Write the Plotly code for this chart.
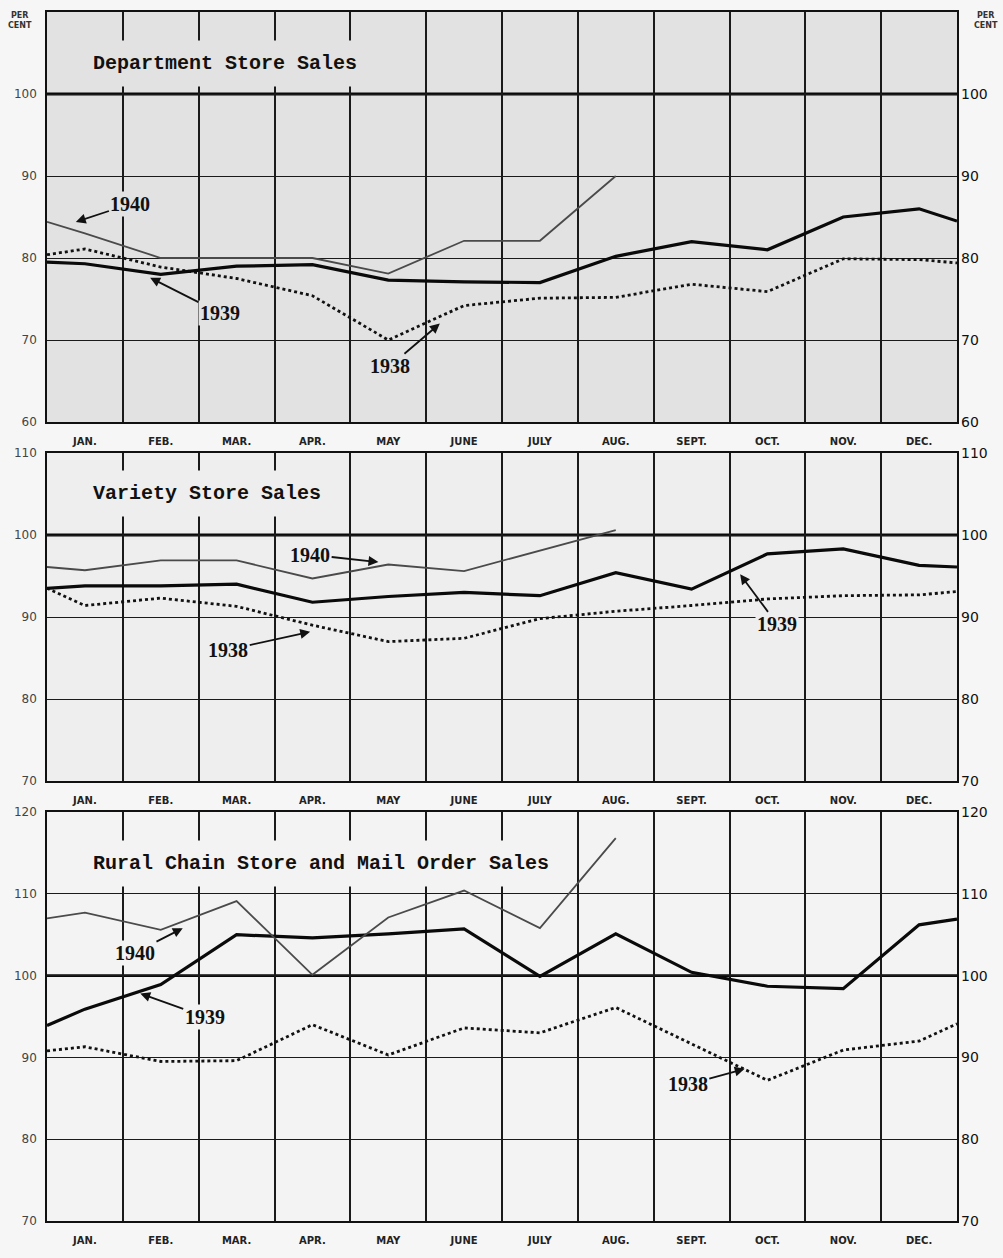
import plotly.graph_objects as go

# ---------------- data ----------------
months = ["JAN.", "FEB.", "MAR.", "APR.", "MAY", "JUNE", "JULY", "AUG.", "SEPT.", "OCT.", "NOV.", "DEC."]
# x positions: left frame edge, month centres, right frame edge
x_full = [0] + [i + 0.5 for i in range(12)] + [12]
x_1940 = x_full[:9]

# values: [left edge, Jan .. Dec, right edge]  (1940: left edge, Jan .. Aug)
dept_1938 = [80.4, 81.1, 78.9, 77.5, 75.4, 70.0, 74.2, 75.1, 75.2, 76.8, 75.9, 79.9, 79.8, 79.4]
dept_1939 = [79.5, 79.3, 78.0, 79.0, 79.2, 77.3, 77.1, 77.0, 80.2, 82.0, 81.0, 85.0, 86.0, 84.5]
dept_1940 = [84.4, 83.0, 80.0, 80.0, 80.0, 78.1, 82.1, 82.1, 90.0]

var_1938 = [93.5, 91.4, 92.3, 91.3, 89.0, 87.0, 87.4, 89.8, 90.7, 91.4, 92.2, 92.6, 92.7, 93.1]
var_1939 = [93.5, 93.8, 93.8, 94.0, 91.8, 92.5, 93.0, 92.6, 95.4, 93.4, 97.7, 98.3, 96.3, 96.1]
var_1940 = [96.1, 95.7, 96.9, 96.9, 94.7, 96.4, 95.6, 98.1, 100.6]

rural_1938 = [90.8, 91.3, 89.5, 89.6, 94.0, 90.3, 93.6, 93.0, 96.1, 91.7, 87.2, 90.9, 92.0, 94.1]
rural_1939 = [93.9, 95.9, 98.9, 105.0, 104.6, 105.1, 105.7, 99.9, 105.1, 100.4, 98.7, 98.4, 106.2, 106.9]
rural_1940 = [107.0, 107.7, 105.6, 109.1, 100.1, 107.1, 110.4, 105.8, 116.8]

panel_titles = ["Department Store Sales", "Variety Store Sales", "Rural Chain Store and Mail Order Sales"]
y_ranges = [(60, 110), (70, 110), (70, 120)]
y_ticks = [[60, 70, 80, 90, 100], [70, 80, 90, 100, 110], [70, 80, 90, 100, 110, 120]]

# year label positions (text, text x, text y, arrow x, arrow y)
year_labels = [
    [("1940", 1.10, 86.6, 0.38, 84.4), ("1939", 2.28, 73.3, 1.36, 77.6), ("1938", 4.52, 66.8, 5.18, 72.0)],
    [("1940", 3.47, 97.6, 4.37, 96.7), ("1938", 2.39, 86.0, 3.47, 88.2), ("1939", 9.63, 89.1, 9.14, 95.2)],
    [("1940", 1.16, 102.8, 1.79, 105.8), ("1939", 2.08, 95.0, 1.23, 97.8), ("1938", 8.45, 86.7, 9.20, 88.6)],
]

series = [
    (dept_1938, dept_1939, dept_1940),
    (var_1938, var_1939, var_1940),
    (rural_1938, rural_1939, rural_1940),
]

# ---------------- layout geometry ----------------
W, H = 1003, 1258
x_dom = [47 / W, 957 / W]
y_doms = [
    [1 - 422 / H, 1 - 12 / H],
    [1 - 781 / H, 1 - 453 / H],
    [1 - 1221 / H, 1 - 812 / H],
]
plot_bgs = ["#e2e2e2", "#eeeeee", "#f3f3f3"]

fig = go.Figure()
layout = dict(
    width=W, height=H,
    margin=dict(l=0, r=0, t=0, b=0, autoexpand=False),
    paper_bgcolor="#f6f6f6",
    showlegend=False,
    annotations=[],
    shapes=[],
)

for p in range(3):
    n = "" if p == 0 else str(p + 1)
    xa, ya = "x" + n, "y" + n
    s1938, s1939, s1940 = series[p]
    fig.add_trace(go.Scatter(x=x_full, y=s1938, xaxis=xa, yaxis=ya, mode="lines",
                             line=dict(color="#111111", width=2.8, dash="dot")))
    fig.add_trace(go.Scatter(x=x_full, y=s1939, xaxis=xa, yaxis=ya, mode="lines",
                             line=dict(color="#0a0a0a", width=3.2)))
    fig.add_trace(go.Scatter(x=x_1940, y=s1940, xaxis=xa, yaxis=ya, mode="lines",
                             line=dict(color="#4a4a4a", width=1.8)))

    layout["xaxis" + n] = dict(
        domain=x_dom, anchor=ya, range=[0, 12], automargin=False,
        tickvals=[i + 0.5 for i in range(12)], ticktext=months,
        ticks="", ticklabelstandoff=9,
        tickfont=dict(family="DejaVu Sans", size=10, color="#222222", weight="bold"),
        showgrid=False, zeroline=False,
        showline=True, mirror=True, linecolor="#111111", linewidth=1.6,
        minor=dict(tickvals=list(range(1, 12)), showgrid=True, gridcolor="#1a1a1a", gridwidth=1.5, ticks=""),
        fixedrange=True,
    )
    layout["yaxis" + n] = dict(
        domain=y_doms[p], anchor=xa, range=list(y_ranges[p]), automargin=False,
        tickvals=y_ticks[p], ticks="", ticklabelstandoff=6,
        tickfont=dict(family="DejaVu Sans", size=12, color="#444444"),
        showgrid=True, gridcolor="#1a1a1a", gridwidth=1.4, zeroline=False,
        showline=True, mirror=True, linecolor="#111111", linewidth=1.6,
        fixedrange=True,
    )
    # background per panel
    layout["shapes"].append(dict(type="rect", xref=xa + " domain", yref=ya + " domain",
                                 x0=0, x1=1, y0=0, y1=1, fillcolor=plot_bgs[p],
                                 line=dict(width=0), layer="below"))
    # heavy 100 line
    layout["shapes"].append(dict(type="line", xref=xa + " domain", yref=ya,
                                 x0=0, x1=1, y0=100, y1=100,
                                 line=dict(color="#0a0a0a", width=2.8), layer="below"))
    # right-side tick labels
    for v in y_ticks[p]:
        layout["annotations"].append(dict(
            xref="paper", yref=ya, x=x_dom[1], y=v, xanchor="left", yanchor="middle",
            xshift=2, text=str(v), showarrow=False,
            font=dict(family="DejaVu Sans", size=14, color="#111111")))
    # panel title
    layout["annotations"].append(dict(
        xref=xa, yref=ya + " domain", x=0.45, y=0.875, xanchor="left", yanchor="middle",
        text="<b>" + panel_titles[p] + "</b>", showarrow=False,
        font=dict(family="Liberation Mono", size=20, color="#111111"),
        bgcolor=plot_bgs[p], borderpad=11))
    # year labels with arrows
    for (txt, tx, ty, axp, ayp) in year_labels[p]:
        layout["annotations"].append(dict(
            xref=xa, yref=ya, x=axp, y=ayp, axref=xa, ayref=ya, ax=tx, ay=ty,
            text="<b>" + txt + "</b>", showarrow=True, arrowhead=2, arrowsize=1.1,
            arrowwidth=1.8, arrowcolor="#111111", standoff=0,
            font=dict(family="Liberation Serif", size=20, color="#111111"),
            bgcolor=plot_bgs[p], borderpad=1))

# PER CENT labels
for xx in (20 / W, 986 / W):
    layout["annotations"].append(dict(
        xref="paper", yref="paper", x=xx, y=1 - 20 / H, xanchor="center", yanchor="middle",
        text="<b>PER<br>CENT</b>", showarrow=False,
        font=dict(family="DejaVu Sans", size=8, color="#333333")))

fig.update_layout(**layout)
fig.write_html("out.html", config={"displayModeBar": False},
               post_script="document.body.style.margin='0';document.body.style.overflow='hidden';")
